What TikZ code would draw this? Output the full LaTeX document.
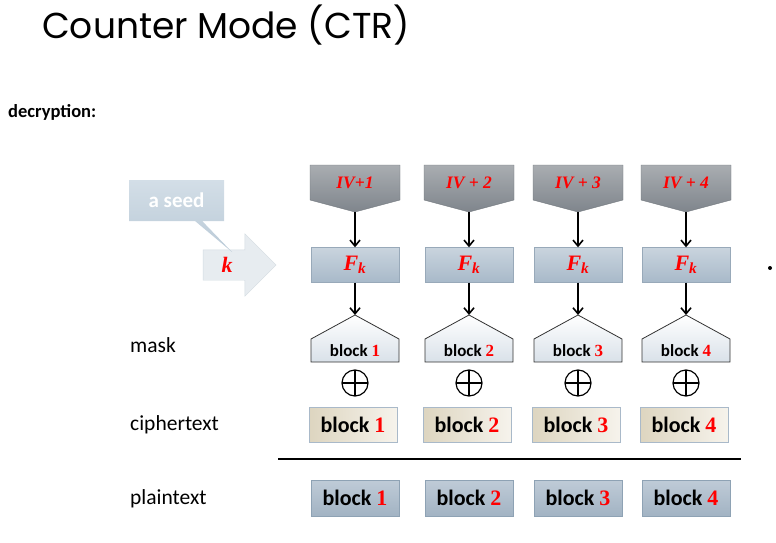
\documentclass[tikz,border=0pt]{standalone}
\usepackage{fontspec}
\setmainfont{Carlito}
\newfontfamily\titlefont{Poppins}
\newfontfamily\numfont{Liberation Serif}
\usetikzlibrary{arrows.meta, shapes.arrows, shapes.callouts}
\definecolor{ivtop}{HTML}{A9ADB1}
\definecolor{ivbot}{HTML}{7F858C}
\definecolor{ivline}{HTML}{6E747A}
\definecolor{ftop}{HTML}{C9D4DE}
\definecolor{fbot}{HTML}{A8B9C9}
\definecolor{fline}{HTML}{98A9B9}
\definecolor{masklow}{HTML}{D9E1E9}
\definecolor{cleft}{HTML}{DDD5C0}
\definecolor{cright}{HTML}{F6F3EC}
\definecolor{cline}{HTML}{A9B9C9}
\definecolor{ptop}{HTML}{BFCBD7}
\definecolor{pbot}{HTML}{A2B3C3}
\definecolor{pline}{HTML}{8EA2B4}
\definecolor{seedtop}{HTML}{D3DEE7}
\definecolor{seedbot}{HTML}{BACAD7}
\definecolor{arrfill}{HTML}{E7ECF0}
\definecolor{arrline}{HTML}{D3DBE2}
\newcommand{\blk}[1]{block {\numfont\textcolor{red}{#1}}}
\begin{document}
\begin{tikzpicture}[x=1pt, y=-1pt, >={Straight Barb[length=6pt, width=10pt]},
  ivbox/.style={draw=ivline, top color=ivtop, bottom color=ivbot},
  ivtext/.style={text=red, font=\numfont\bfseries\itshape\fontsize{17.5}{20}\selectfont},
  fbox/.style={draw=fline, top color=ftop, bottom color=fbot, minimum width=88,
    minimum height=35, text=red, font=\numfont\bfseries\itshape\fontsize{22}{24}\selectfont},
  maskbox/.style={draw=black!80, line width=0.8, top color=white, bottom color=masklow},
  masktext/.style={font=\bfseries\fontsize{17}{19}\selectfont},
  xor/.style={circle, draw, line width=1.2, minimum size=26, inner sep=0, path picture={
    \draw[line width=1.2]
(path picture bounding box.north) -- (path picture bounding box.south) (path picture bounding box.west) -- (path picture bounding box.east);
  }},
  cbox/.style={draw=cline, left color=cleft, right color=cright, minimum width=88,
    minimum height=35, font=\bfseries\fontsize{22}{24}\selectfont},
  pbox/.style={draw=pline, top color=ptop, bottom color=pbot, minimum width=88,
    minimum height=36, font=\bfseries\fontsize{22}{24}\selectfont},
  rowlabel/.style={anchor=base west, font=\fontsize{21.5}{24}\selectfont}]
    \useasboundingbox (0,0) rectangle (776,543);

    % Heading
    \node[anchor=base west, inner sep=0, font=\titlefont\fontsize{36}{40}\selectfont] (title) at (42,38) {Counter Mode (CTR)};
    \node[anchor=base west, inner sep=0, font=\bfseries\fontsize{18.5}{20}\selectfont] (dec) at (8,117) {decryption:};

    % Key arrow and seed callout
    \node[single arrow, draw=arrline, fill=arrfill, minimum height=73, minimum width=62,
          single arrow head extend=16, inner xsep=0, inner ysep=15, text width=0] (karrow) at (232,265) {};
    \node[rectangle callout, callout absolute pointer={(232,252)}, top color=seedtop,
          bottom color=seedbot, minimum width=95, minimum height=41, text=white,
          font=\bfseries\fontsize{21}{23}\selectfont] (seed) at (176.5,200.5) {a seed};
    \node[text=red, font=\numfont\bfseries\itshape\fontsize{22}{24}\selectfont] (k) at (227,265) {k};

    % Row labels
    \node[rowlabel, inner sep=0] (lmask) at (130,352) {mask};
    \node[rowlabel, inner sep=0] (lcipher) at (130,430) {ciphertext};
    \node[rowlabel, inner sep=0] (lplain) at (130,504) {plaintext};

    % Columns
    \foreach \i/\x/\t in {1/355/IV+1, 2/469/IV + 2, 3/578/IV + 3, 4/686/IV + 4} {
      \path[ivbox] ({\x-45},165) -- ({\x+45},165) -- ({\x+45},200) -- (\x,212)
            -- ({\x-45},200) -- cycle;
      \path (\x,212) coordinate (iv\i);
      \node[ivtext] (ivt\i) at (\x,183) {\t};
      \node[fbox] (f\i) at (\x,265) {F\textsubscript{k}};
      \path[maskbox] ({\x-44},362) -- ({\x-44},339) -- (\x,315) -- ({\x+44},339)
            -- ({\x+44},362) -- cycle;
      \path (\x,315) coordinate (m\i);
      \node[masktext] (mt\i) at (\x,351) {\blk{\i}};
      \node[xor] (x\i) at (\x,383) {};
      \node[cbox] (c\i) at ({\x-2},424.5) {\blk{\i}};
      \node[pbox] (p\i) at (\x,498) {\blk{\i}};
    }

    % Separator
    \draw[line width=1.3] (278,459) coordinate (sepl) -- (741,459) coordinate (sepr);

    % Bullet
    \node[circle, fill, inner sep=0, minimum size=4] (dot) at (770,268) {};

    % Connections
      \foreach \i in {1, ..., 4} {
            \draw [line width=1.6, ->] (iv\i) -- (f\i);
            \draw [line width=1.6, ->] (f\i) -- (m\i);
      }
  \end{tikzpicture}
\end{document}
